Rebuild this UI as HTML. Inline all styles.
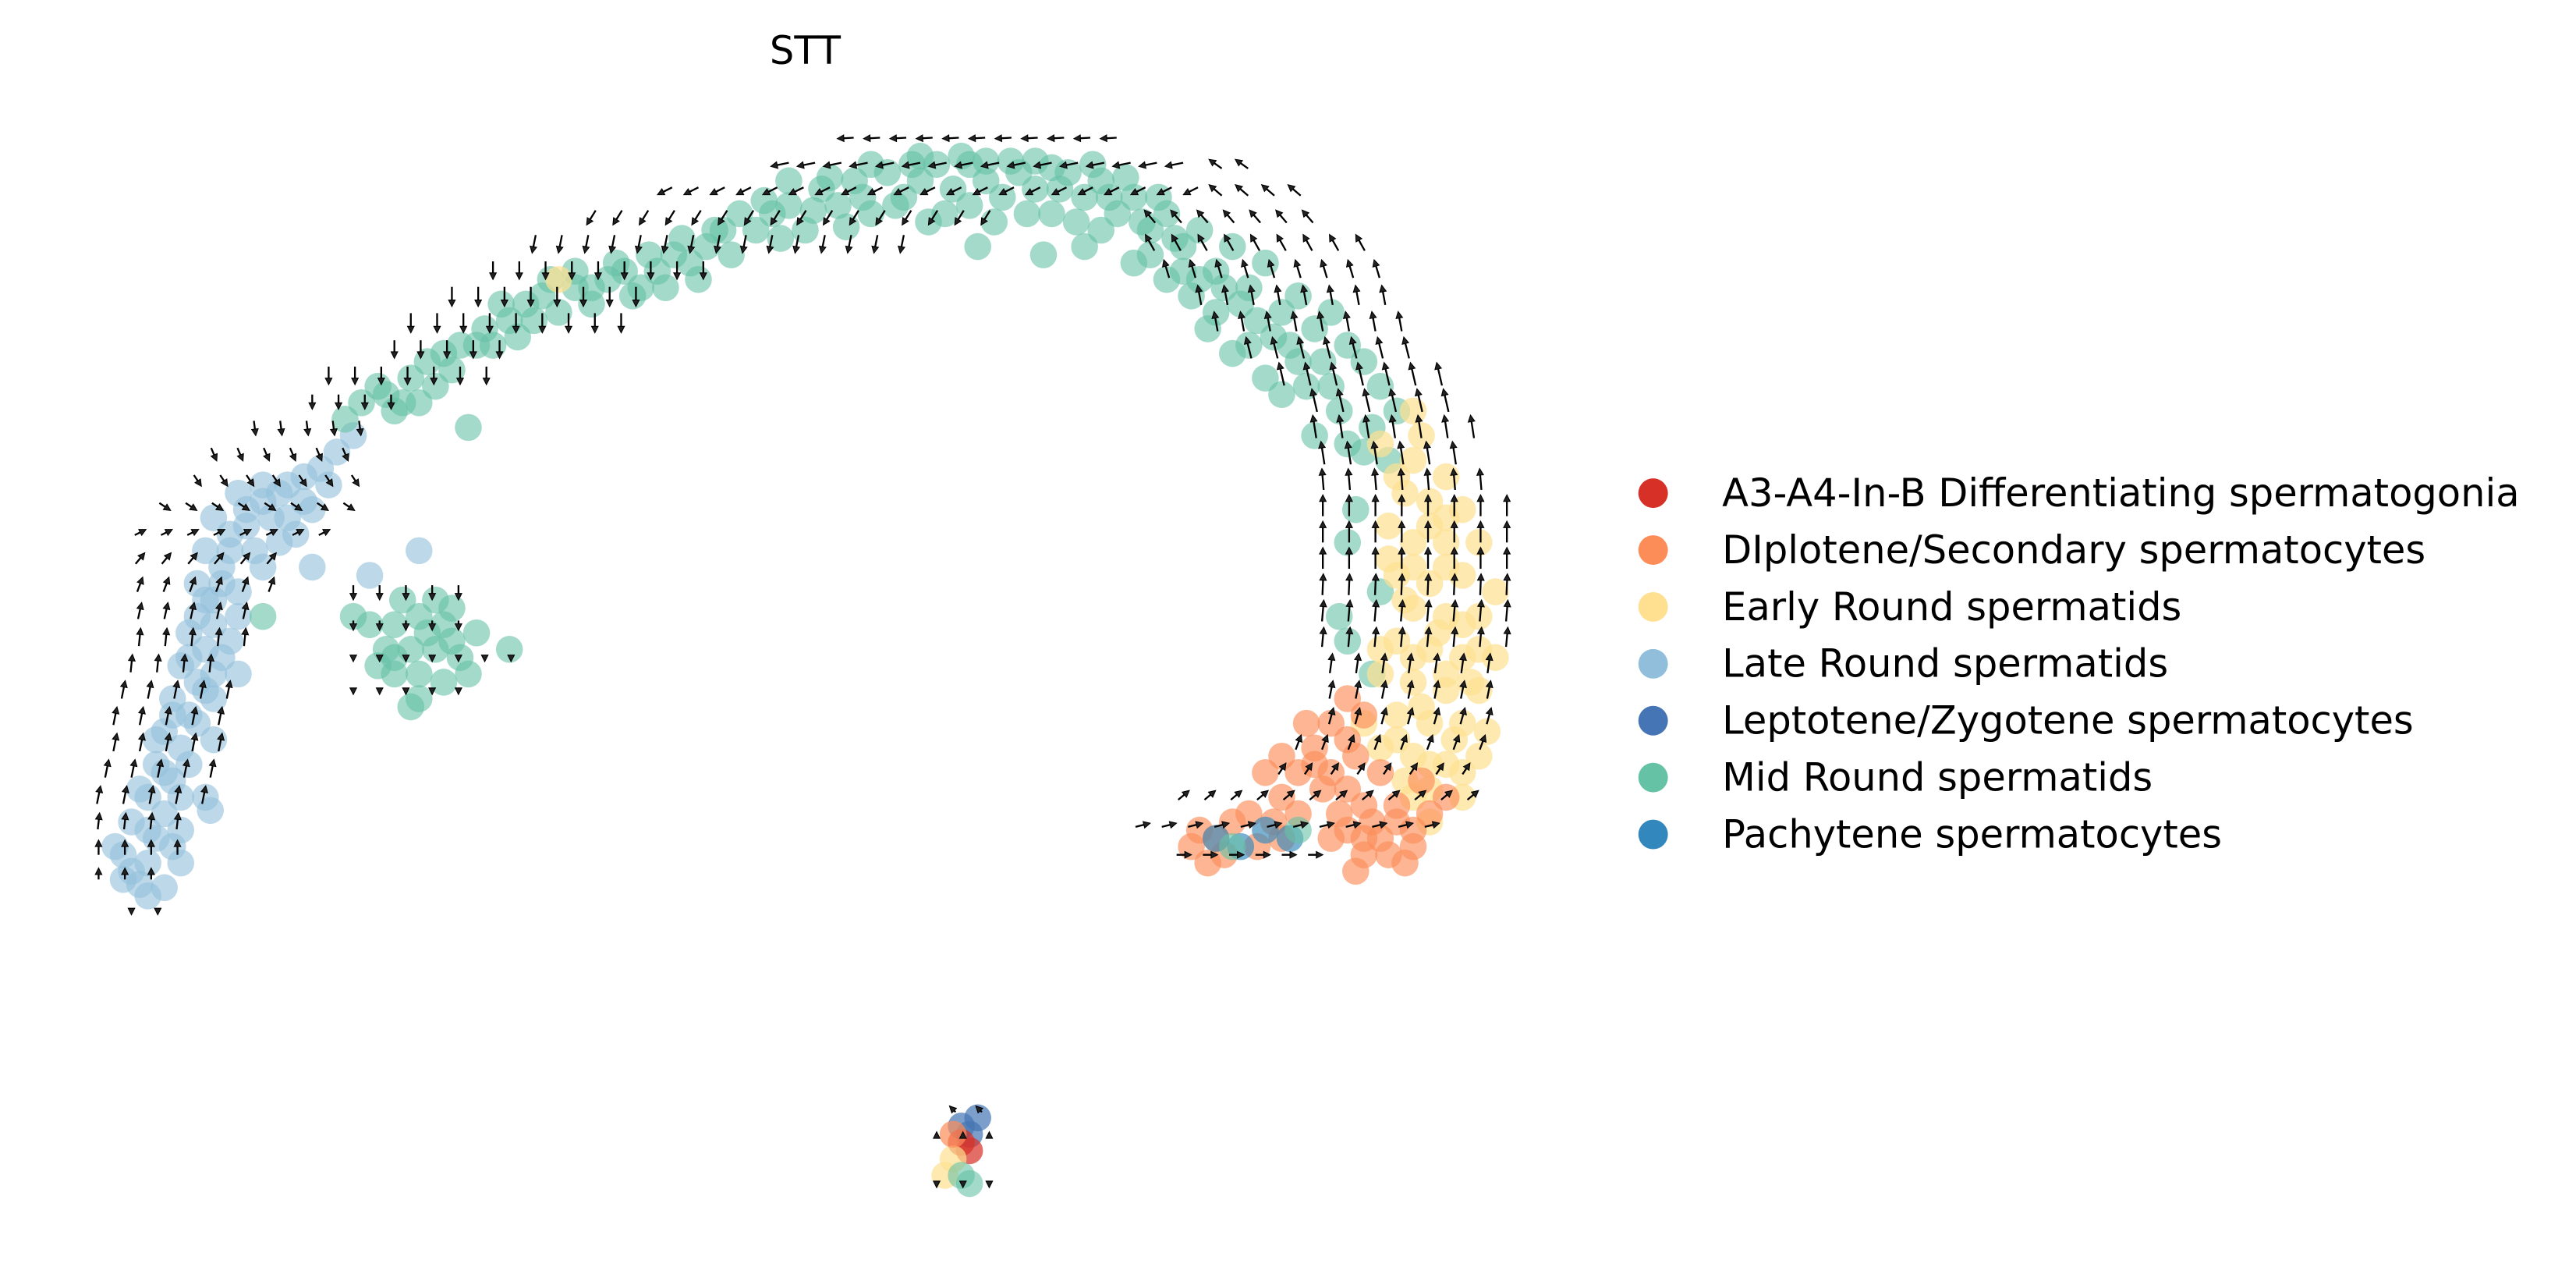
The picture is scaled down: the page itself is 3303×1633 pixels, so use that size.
<!DOCTYPE html>
<html><head><meta charset="utf-8"><style>
html,body{margin:0;padding:0;background:#fff;}
svg{display:block;font-family:"DejaVu Sans","Liberation Sans",sans-serif;}
</style></head><body>
<svg id="chart" width="3303" height="1633" viewBox="0 0 1567.6 775" xmlns="http://www.w3.org/2000/svg">
<rect width="1567.6" height="775" fill="#fff"/>
<text x="490" y="39" font-size="23.5" text-anchor="middle" fill="#000">STT</text>
<g id="points"></g>
<g id="arrows"></g>
<g id="legend"></g>
</svg>
<script>
const categories = ["A3-A4-In-B Differentiating spermatogonia","DIplotene/Secondary spermatocytes","Early Round spermatids","Late Round spermatids","Leptotene/Zygotene spermatocytes","Mid Round spermatids","Pachytene spermatocytes"];
const colors = ["#d73027","#fc8d59","#fee090","#91bfdb","#4575b4","#66c2a5","#3288bd"];
const lateRound = [[8.5,53.8],[9,52.5],[7.5,52],[9.5,51],[8,50],[10,49.5],[9,48.5],[10.5,47.5],[9.5,46.5],[11,45.5],[10,44.5],[11.5,43.5],[10.5,42.5],[12,41.5],[11,40.5],[12.5,39.5],[11.5,38.5],[12,37.5],[13,36.5],[12,35.5],[13.5,34.5],[12.5,33.5],[14,32.5],[13,31.5],[15,31],[14.5,30],[16,30.5],[16,29.5],[17,30],[17.5,31.5],[18.5,29],[18,32.5],[19.5,28.5],[20,29.5],[20.5,27.5],[21.5,26.5],[15.5,33.5],[14.5,36],[13,41],[14,39],[8,53],[7,51.5],[10,54],[12.5,48.5],[11,50.5],[12,44],[13,42.5],[19,34.5],[22.5,35],[25.5,33.5],[19,31],[17,33],[12.8,49.3],[14.5,41],
[9,50.5],[10.5,51.5],[8.5,48],[11,48.5],[10,47],[9.5,45],[11.5,46.5],[10.5,43.5],[12.5,42],[11.5,40],[13,38],[12.5,36.5],[13.5,35.5],[14,33.5],[15,32],[16.5,31.5],[17.5,29.5],[18.5,30.5],[16,34.5],[14.5,37.5],[13.5,40],[7.5,53.5],[9,54.5],[11,52.5],[13,45]];
const midRound = [[22,24.5],[23,23.5],[24.5,24.5],[25,23],[26,22],[27,21.5],[27.5,22.5],[28,21],[29.5,20],[30,21],[31,19.5],[32,18.5],[31.5,20.5],[33,18],[34,19],[35,17.5],[36,18.5],[37,17],[38,16.5],[39,17.5],[40,16.5],[41,15.5],[42,16],[43,15],[44,14],[44.5,15.5],[46,14],[47,13],[48,12.5],[49,14],[50,11.5],[51,12.5],[52,11],[53,13],[54,10.5],[55,12],[56,11],[57,10],[57.5,13],[58,11.5],[59,10],[60,11],[61,12],[62,10.5],[63,11.5],[64,13],[65,10.5],[66,12],[67,11],[68,13],[69,12],[70,14],[71,13],[72,15],[73,14],[74,16.5],[75,15],[76,17.5],[77,16],[78,19],[79,18],[80,20],[81,19],[82,21],[83,22],[84,23.5],[85,25],[79,22],[78,24],[80,26.5],[71,17],[72.5,18],[74,19],[76,21],[77,23],[81,23.5],[83,27.5],[82.5,31],[82,33],[81.5,37.5],[63.5,15.5],[59.5,15],[66,15],[69,16],[28.5,26],[36,17.5],[53,10],[56,9.5],[60,9.8],[64,10.2],[50.5,10.8],[46.5,12.2],[84,36],[83.5,41],[82,39],
[48,11],[49.5,12.8],[51.5,13.8],[52.5,12],[54.5,12.5],[55.5,10],[56.5,13.5],[58.5,9.5],[59,12.5],[60.5,13.5],[61.5,9.8],[62.5,13],[63,9.8],[64.5,11.5],[65.5,13.5],[66.5,10],[67.5,12],[68.5,10.8],[69.5,13.5],[70.5,12],[71.5,14.5],[72,16.5],[73,17],[74.5,17.5],[75.5,18.5],[76.5,19.5],[77.5,20.5],[78.5,21],[79.5,23.5],[80.5,22],[81.5,25],[82,27],[83.5,26],[84.5,28],[45,13],[43.5,14],[41.5,14.5],[39.5,15.5],[38.5,18],[37.5,16],[35,16.5],[33.5,17],[32.5,19.5],[30.5,18.5],[29,21],[26.5,23.5],[25.5,24.5],[24,25],[23.5,24],[21,25.5],[40.5,17.5],[42.5,17],[47.5,14.5],[70,15.5],[67,14],[73.5,20],[75,21.5],
[24,38],[25.5,37.5],[27,38],[23.5,39.5],[25,39.5],[26.5,39.5],[28,40],[24,41],[25.5,41],[27,41.5],[25.5,42.5],[24.5,36.5],[26.5,36.5],[29,38.5],[22.5,38],[31,39.5],[21.5,37.5],[16,37.5],[24,40],[27.5,39],[23,40.5],[28.5,41],[26,38.5],[25,43],[27.5,37]];
const earlyRound = [[84,27],[86,28],[85.5,30],[87,30.5],[84.5,32],[86,33],[88,33],[85,35],[87,35.5],[89,35],[86,37],[88,37.5],[90,37.5],[85,39],[87,39.5],[89,40],[86,41.5],[88,42],[90,42],[85,43.5],[87,44],[89,44],[86,46],[88,46.5],[90,46],[87,48],[89,48.5],[85.5,47.5],[84,45.5],[88,29],[89,31],[90,33],[91,36],[91,40],[90.5,44.5],[84,41],[86,25],[84,39.5],[83,44],[87,50],[34,17],
[85,29],[87,32],[86,34.5],[88,34.5],[85.5,36.5],[87.5,38.5],[89,38],[86,40],[88,41],[89.5,41.5],[86.5,43],[88.5,45],[85,45],[87,46.5],[89,47],[86,48.5],[84.5,34],[90,39.5],[88,31.5],[86.5,26.5]];
const diplotene = [[82,42.5],[81,44],[80,45.5],[82.5,46],[81,47],[79,47],[78,48.5],[77,47],[80.5,48],[84,47],[83,49],[82,50.5],[84,51],[85,50],[86,51.5],[83,52],[85,49],[87,49.5],[82,48],[77.5,50],[76,49.5],[76.5,51.5],[75,50],[74,51],[73,50.5],[72.5,51.5],[81,51],[88,48.5],[86.5,47.5],[78,46],
[83,43.5],[82,45],[80,46.5],[79.5,44],[83.5,50],[84.5,52],[85.5,52.5],[86,50.5],[83,51],[82.5,53],[81.5,49.5],[79,49.5],[78,51],[74.5,52],[73.5,52.5]];
const pachytene = [[74,51],[75.5,51.5],[77,50.5],[78.5,51]];
const midRoundBottom = [[75,51.5],[79,50.5]];
const leptotene = [[59.5,68],[59,69],[58.5,68.5]];
const differentiating = [[58.5,69.5],[59,70]];
const earlyBottom = [[58,70.5],[57.5,71.5]];
const midBottom = [[58.5,71.5],[59,72]];
const dipBottom = [[58,69]];
// arrow rows: [y, xStart, xEnd, dx, dy]
const arrowRows = [[8.4,51.5,69,-0.9,0.05],[10,47.5,73,-1,0.2],[11.6,40.5,73,-0.8,0.4],[13.2,36,60,-0.5,0.8],[14.8,32.5,55,-0.2,1],[16.4,30,43,0,1],[18,27.5,40,0,1.1],[19.6,25,38,0,1.1],[21.2,24,31,0,1],[22.8,20,30,0,1],[24.4,19,24,0,0.8],[26,15.5,23,0.1,0.8],[27.6,13,22,0.3,0.7],[29.2,12,22,0.4,0.6],[30.8,10,22,0.6,0.4],[32.4,8.5,21,0.6,-0.3],[34,8.5,18,0.5,-0.6],[35.6,8.5,18,0.3,-0.8],[37.2,8.5,16,0.2,-0.9],[38.8,8.5,15,0.1,-1],[40.4,8,14,0.1,-1],[42,7.5,14,0.2,-1],[43.6,7,14,0.2,-1],[45.2,7,13.5,0.2,-1],[46.8,6.5,13,0.2,-1],[48.4,6,13,0.2,-1],[50,6,12,0.1,-0.9],[51.6,6,11,0,-0.8],[53.2,6,10,0,-0.6],[55.4,8,10,0,0.3],
[10,74,77,-0.7,-0.5],[11.6,74,79,-0.7,-0.6],[13.2,70,81,-0.6,-0.7],[14.8,70,83,-0.5,-0.9],[16.4,71,84,-0.3,-1],[18,73,85,-0.2,-1.1],[19.6,74,86,-0.2,-1.1],[21.2,76,87,-0.3,-1.2],[22.8,78,88,-0.3,-1.3],[24.4,80,89,-0.3,-1.3],[26,80,90,-0.2,-1.3],[27.6,80.5,90,-0.2,-1.3],[29.2,80.5,91,-0.1,-1.2],[30.8,80.5,92,0,-1.2],[32.4,80.5,92,0,-1.2],[34,80.5,92,0,-1.2],[35.6,80.5,92,0.05,-1.2],[37.2,80.5,92,0.1,-1.2],[38.8,80.5,92,0.1,-1.1],[40.4,81,92,0.15,-1.1],[42,81,92,0.2,-1],[43.6,81,92,0.25,-0.9],[45.2,79,91,0.3,-0.8],[46.8,78,90,0.4,-0.6],[48.4,72,90,0.6,-0.5],[50.2,69.5,88,0.8,-0.2],[52,72,81,0.8,0],
[36,21.5,28.5,0,0.8],[38,21.5,29,0,0.5],[40,21.5,32,0,0.3],[42,21.5,28.5,0,0.3],
[67.5,58,61,-0.3,-0.3],[69,57,61,0,-0.1],[72,57,61,0,0.3]];
const xScale = u => u * 10;
const yScale = u => u * 10;
const NS = "http://www.w3.org/2000/svg";
const pg = document.getElementById("points");
function drawSet(arr, ci, op) {
  for (const p of arr) {
    const c = document.createElementNS(NS, "circle");
    c.setAttribute("cx", xScale(p[0]));
    c.setAttribute("cy", yScale(p[1]));
    c.setAttribute("r", 8.2);
    c.setAttribute("fill", colors[ci]);
    c.setAttribute("fill-opacity", op);
    
    
    pg.appendChild(c);
  }
}
drawSet(lateRound, 3, 0.6);
drawSet(midRound, 5, 0.6);
drawSet(earlyRound, 2, 0.7);
drawSet(diplotene, 1, 0.65);
drawSet(pachytene, 6, 0.65);
drawSet(midRoundBottom, 5, 0.6);
drawSet(leptotene, 4, 0.7);
drawSet(differentiating, 0, 0.7);
drawSet(earlyBottom, 2, 0.7);
drawSet(midBottom, 5, 0.6);
drawSet(dipBottom, 1, 0.7);
const ag = document.getElementById("arrows");
for (const r of arrowRows) {
  for (let x = r[1]; x <= r[2] + 0.01; x += 1.6) {
    const x0 = xScale(x), y0 = yScale(r[0]);
    const dx = r[3] * 10, dy = r[4] * 10;
    const len = Math.hypot(dx, dy);
    const g = document.createElementNS(NS, "g");
    
    
    const x1 = x0 + dx / 2, y1 = y0 + dy / 2, xs = x0 - dx / 2, ys = y0 - dy / 2;
    if (len > 2.5) {
      const l = document.createElementNS(NS, "line");
      l.setAttribute("x1", xs); l.setAttribute("y1", ys);
      l.setAttribute("x2", x1); l.setAttribute("y2", y1);
      l.setAttribute("stroke", "#000"); l.setAttribute("stroke-width", 1.1);
      g.appendChild(l);
    }
    const ux = len > 0 ? dx / len : 0, uy = len > 0 ? dy / len : -1;
    const h = 4, w = 2;
    const tip = [x1 + ux * 1, y1 + uy * 1];
    const b1 = [tip[0] - ux * h - uy * w, tip[1] - uy * h + ux * w];
    const b2 = [tip[0] - ux * h + uy * w, tip[1] - uy * h - ux * w];
    const pl = document.createElementNS(NS, "polygon");
    pl.setAttribute("points", tip.join(",") + " " + b1.join(",") + " " + b2.join(","));
    pl.setAttribute("fill", "#222");
    pl.setAttribute("stroke", "#000");
    pl.setAttribute("stroke-width", 0.5);
    g.appendChild(pl);
    ag.appendChild(g);
  }
}
const lg = document.getElementById("legend");
categories.forEach((name, i) => {
  const y = 300 + i * 34.6;
  const g = document.createElementNS(NS, "g");
  
  
  const c = document.createElementNS(NS, "circle");
  c.setAttribute("cx", 1006); c.setAttribute("cy", y); c.setAttribute("r", 9);
  c.setAttribute("fill", colors[i]);
  g.appendChild(c);
  const t = document.createElementNS(NS, "text");
  t.setAttribute("x", 1048); t.setAttribute("y", y + 8);
  t.setAttribute("font-size", "23.5"); t.setAttribute("fill", "#000");
  t.textContent = name;
  g.appendChild(t);
  lg.appendChild(g);
});
</script>
</body></html>
